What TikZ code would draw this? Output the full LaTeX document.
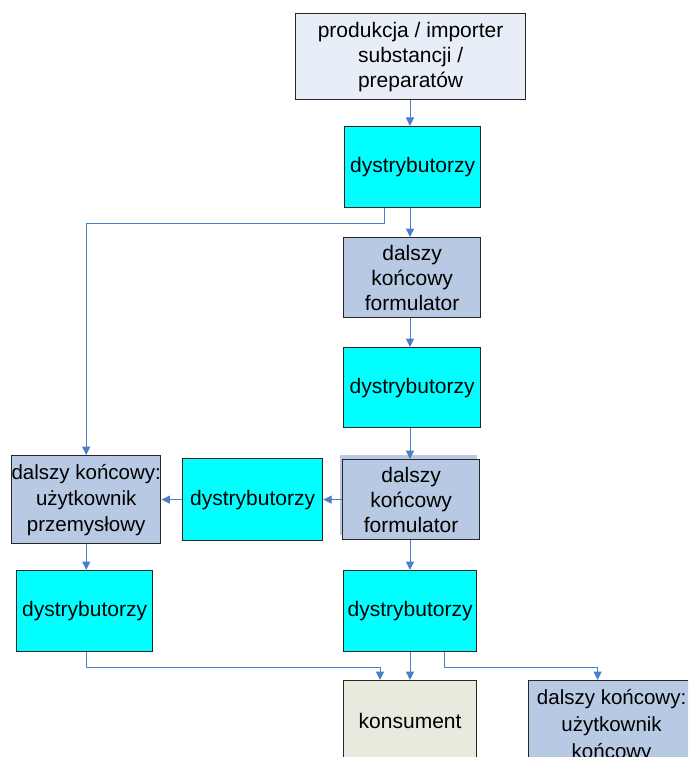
\documentclass[tikz,border=0pt]{standalone}
\usepackage{fontspec}
\setmainfont{Liberation Sans}
\usetikzlibrary{arrows.meta}
\definecolor{linkblue}{HTML}{4A7EC6}
\definecolor{steel}{HTML}{B8C9E3}
\definecolor{paleblue}{HTML}{E8EEF8}
\definecolor{beige}{HTML}{E9E9DD}
\definecolor{aqua}{HTML}{00FFFF}
\begin{document}
\begin{tikzpicture}[x=1pt,y=-1pt,
  stepbox/.style={draw=black!85, line width=1.2pt, inner sep=0pt, align=center,
    font=\fontsize{21}{25}\selectfont, anchor=north west},
  distbox/.style={stepbox, fill=aqua},
  userbox/.style={stepbox, fill=steel},
  conn/.style={draw=linkblue, line width=1pt, -{Triangle[length=8.5pt,width=8pt]}},
  link/.style={draw=linkblue, line width=1pt}]
\useasboundingbox (0,0) rectangle (688,757);
\clip (0,0) rectangle (688,757);

% producer / importer
\node[stepbox, fill=paleblue, minimum width=230pt, minimum height=86pt] (src) at (295,13)
  {produkcja / importer\\substancji /\\preparatów};

% main chain
\node[distbox, minimum width=136pt, minimum height=81pt] (d1) at (344,126) {dystrybutorzy};
\node[userbox, minimum width=137pt, minimum height=80pt] (f1) at (343,237) {dalszy\\końcowy\\formulator};
\node[distbox, minimum width=137pt, minimum height=80pt] (d2) at (343,347) {dystrybutorzy};
% light band peeking out above the second formulator box
\fill[steel] (340,455) rectangle (477,470);
\fill[steel] (340,455) rectangle (346,535);
\node[userbox, minimum width=137pt, minimum height=80pt] (f2) at (342,459) {dalszy\\końcowy\\formulator};
\node[distbox, minimum width=133pt, minimum height=81pt] (d5) at (343,570) {dystrybutorzy};

% left branch
\node[distbox, minimum width=140pt, minimum height=82pt] (d3) at (182,458) {dystrybutorzy};
\node[userbox, minimum width=147pt, minimum height=88pt, font=\fontsize{20.5}{26}\selectfont] (u1) at (11,455)
  {dalszy końcowy:\\użytkownik\\przemysłowy};
\node[distbox, minimum width=136pt, minimum height=81pt] (d4) at (16,570) {dystrybutorzy};

% end points (running past the lower edge)
\node[stepbox, fill=beige, minimum width=133pt, minimum height=80pt] (kons) at (343,680) {konsument};
\node[userbox, minimum width=166pt, minimum height=90pt, font=\fontsize{20.5}{27}\selectfont] (ek) at (528,680)
  {dalszy końcowy:\\użytkownik\\końcowy};

% connectors (all vertical runs at x = 410 on the main chain)
\coordinate (spine) at (410,0);
\draw[conn] (spine |- src.south) -- (spine |- d1.north);
\draw[conn] (spine |- d1.south) -- (spine |- f1.north);
\draw[conn] ([xshift=-26pt]spine |- d1.south) -- ++(0,15) -| (u1.north);
\draw[conn] (spine |- f1.south) -- (spine |- d2.north);
\draw[conn] (spine |- d2.south) -- (spine |- f2.north);
\draw[conn] (f2.west) -- (d3.east);
\draw[conn] (d3.west) -- (u1.east);
\draw[conn] (u1.south) -- (u1.south |- d4.north);
\draw[conn] (spine |- f2.south) -- (spine |- d5.north);
\draw[conn] (spine |- d5.south) -- (spine |- kons.north);
\draw[conn] (u1.south |- d4.south) -- ++(0,15) -| ([xshift=-30pt]spine |- kons.north);
\draw[conn] ([xshift=34pt]spine |- d5.south) -- ++(0,15) -| ([xshift=-14pt]ek.north);
\end{tikzpicture}
\end{document}
